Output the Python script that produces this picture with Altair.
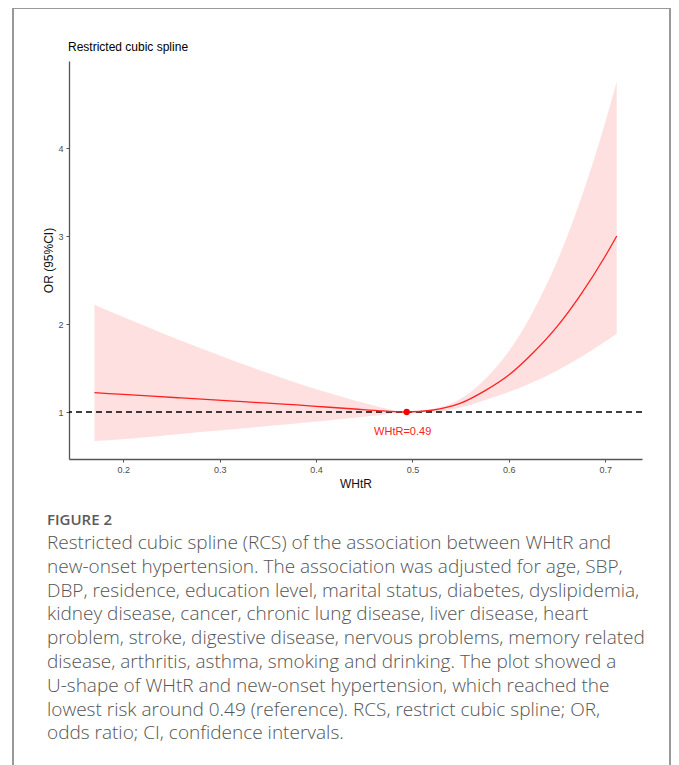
import altair as alt
import pandas as pd

# ---- data ----
whtr = [0.17, 0.20, 0.23, 0.26, 0.29, 0.32, 0.35, 0.38, 0.41, 0.44, 0.47, 0.494,
        0.52, 0.55, 0.575, 0.60, 0.625, 0.65, 0.675, 0.70, 0.712]
or_vals = [1.22, 1.20, 1.18, 1.16, 1.14, 1.12, 1.10, 1.08, 1.057, 1.034, 1.012, 1.0,
           1.02, 1.10, 1.24, 1.42, 1.67, 1.97, 2.34, 2.77, 3.0]
ci_low = [0.67, 0.69, 0.72, 0.75, 0.78, 0.81, 0.84, 0.87, 0.90, 0.935, 0.97, 1.0,
          0.995, 1.05, 1.135, 1.226, 1.338, 1.47, 1.625, 1.80, 1.89]
ci_high = [2.22, 2.08, 1.944, 1.81, 1.684, 1.56, 1.443, 1.33, 1.226, 1.13, 1.047, 1.0,
           1.03, 1.15, 1.37, 1.69, 2.14, 2.71, 3.43, 4.29, 4.76]
ref_whtr = [0.494]
ref_or = [1.0]
ref_label = ["WHtR=0.49"]
x_ticks = [0.2, 0.3, 0.4, 0.5, 0.6, 0.7]
y_ticks = [1, 2, 3, 4]
chart_title = "Restricted cubic spline"
x_title = "WHtR"
y_title = "OR (95%CI)"
fig_label = "FIGURE 2"
caption_lines = [
    "Restricted cubic spline (RCS) of the association between WHtR and",
    "new-onset hypertension. The association was adjusted for age, SBP,",
    "DBP, residence, education level, marital status, diabetes, dyslipidemia,",
    "kidney disease, cancer, chronic lung disease, liver disease, heart",
    "problem, stroke, digestive disease, nervous problems, memory related",
    "disease, arthritis, asthma, smoking and drinking. The plot showed a",
    "U-shape of WHtR and new-onset hypertension, which reached the",
    "lowest risk around 0.49 (reference). RCS, restrict cubic spline; OR,",
    "odds ratio; CI, confidence intervals.",
]

df = pd.DataFrame({"whtr": whtr, "or": or_vals, "lo": ci_low, "hi": ci_high})
ref_df = pd.DataFrame({"whtr": ref_whtr, "or": ref_or, "label": ref_label})
one = pd.DataFrame({"k": [0]})

W, H = 573, 398
SANS = "Liberation Sans"

xscale = alt.Scale(domain=[0.1436, 0.7382], nice=False, zero=False)
yscale = alt.Scale(domain=[0.466, 4.989], nice=False, zero=False)

xaxis = alt.Axis(values=x_ticks, format=".1f", grid=False, title=x_title,
                 labelFontSize=9, labelColor="#4d4d4d", labelFont=SANS, labelPadding=3,
                 tickSize=3, tickColor="#555", domainColor="#555", domainWidth=1.3,
                 titleFont=SANS, titleFontSize=12, titleFontWeight="normal", titleColor="#111",
                 titleX=W / 2, titleY=24, titleBaseline="middle", titleAlign="center")
yaxis = alt.Axis(values=y_ticks, format="d", grid=False, title=y_title,
                 labelFontSize=9, labelColor="#4d4d4d", labelFont=SANS, labelPadding=3,
                 tickSize=3, tickColor="#555", domainColor="#555", domainWidth=1.3,
                 titleFont=SANS, titleFontSize=12, titleFontWeight="normal", titleColor="#111",
                 titleX=-21, titleY=H / 2, titleAngle=270, titleBaseline="middle", titleAlign="center")

band = alt.Chart(df).mark_area(color="#ff0000", opacity=0.12, interpolate="monotone").encode(
    x=alt.X("whtr:Q", scale=xscale, axis=xaxis),
    y=alt.Y("lo:Q", scale=yscale, axis=yaxis),
    y2="hi:Q",
)

line = alt.Chart(df).mark_line(color="#ff2020", strokeWidth=1.3, interpolate="monotone").encode(
    x="whtr:Q", y="or:Q"
)

hline = alt.Chart(ref_df).mark_rule(color="black", strokeWidth=1.5, strokeDash=[6, 4]).encode(
    y=alt.Y("or:Q")
)

point = alt.Chart(ref_df).mark_point(filled=True, color="#ff0000", size=40, opacity=1).encode(
    x="whtr:Q", y="or:Q"
)

label = alt.Chart(ref_df).mark_text(color="#ff2020", fontSize=11, font=SANS, dy=20, dx=-4,
                                    align="center", baseline="middle").encode(
    x="whtr:Q", y="or:Q", text="label:N"
)

title_t = alt.Chart(one).mark_text(align="left", baseline="alphabetic", fontSize=12,
                                   font=SANS, color="black").encode(
    x=alt.value(-1), y=alt.value(-10), text=alt.value(chart_title)
)

fig_t = alt.Chart(one).mark_text(align="left", baseline="alphabetic", fontSize=15,
                                 font="Open Sans", fontWeight=600, color="#5a5a5a").encode(
    x=alt.value(-22), y=alt.value(464), text=alt.value(fig_label)
)

cap_t = alt.Chart(one).mark_text(align="left", baseline="alphabetic", fontSize=19,
                                 font="Open Sans", fontWeight=300, color="#555555",
                                 lineHeight=23.8).encode(
    x=alt.value(-22), y=alt.value(488), text=alt.value(caption_lines)
)

border = alt.Chart(one).mark_rect(fillOpacity=0, stroke="#999999", strokeWidth=2).encode(
    x=alt.value(-56), x2=alt.value(601), y=alt.value(-53), y2=alt.value(760)
)

chart = alt.layer(border, band, hline, line, point, label, title_t, fig_t, cap_t).properties(
    width=W, height=H,
    autosize=alt.AutoSizeParams(type="none"),
    padding={"left": 61, "top": 53, "right": 29, "bottom": 306},
    background="white",
).configure_view(stroke="transparent")

chart.save("out.html", embed_options={"renderer": "svg", "actions": False})
